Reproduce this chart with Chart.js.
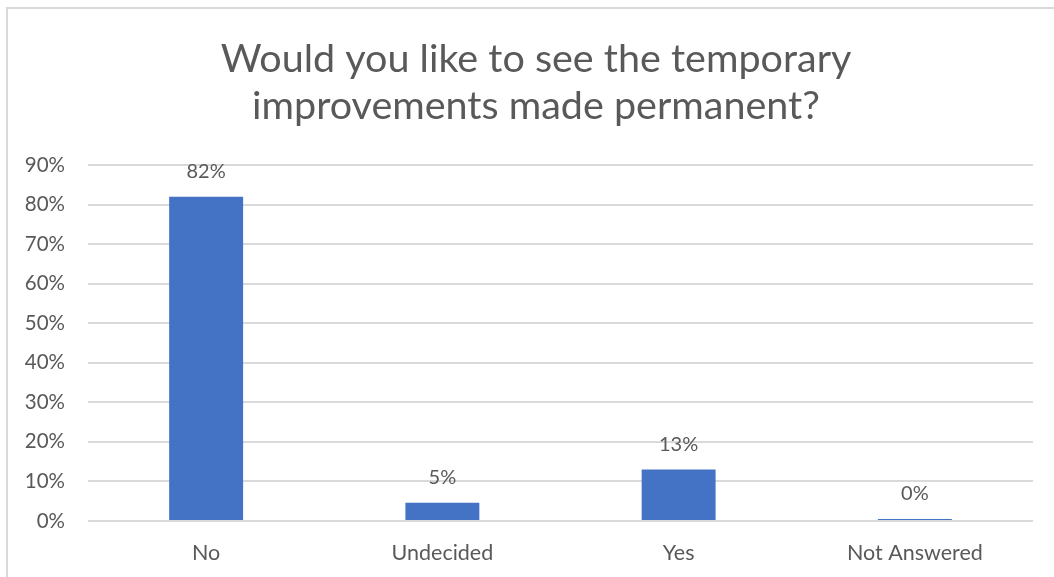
<!DOCTYPE html>
<html>
<head>
<meta charset="utf-8">
<title>Temporary improvements</title>
<script src="https://cdn.jsdelivr.net/npm/chart.js@4"></script>
<style>
    body { margin: 0; background: #fff; }
    #frame { position: absolute; left: 0; top: 0; width: 1054px; height: 577px; }
    #border { position: absolute; left: 6px; top: 7px; width: 1060px; height: 600px; border: 2px solid #d9d9d9; box-sizing: border-box; }
    canvas { position: absolute; left: 0; top: 0; }
</style>
</head>
<body>
<div id="frame">
    <div id="border"></div>
    <canvas id="myChart" width="1054" height="577"></canvas>
</div>
<script>
'use strict';

let categories = ['No', 'Undecided', 'Yes', 'Not Answered'];
let answerValues = [82, 4.6, 13, 0.5];
let answerLabels = ['82%', '5%', '13%', '0%'];
let yTicks = [0, 10, 20, 30, 40, 50, 60, 70, 80, 90];
let titleLines = ['Would you like to see the temporary', 'improvements made permanent?'];

let textColor = '#595959';
let fontName = 'Lato, "Open Sans", sans-serif';

// the title sits centred on the whole frame, not on the plot
let frameTitle = {
    id: 'frameTitle',
    afterDraw(chart) {
        let ctx = chart.ctx;
        ctx.save();
        ctx.font = '39.5px ' + fontName;
        ctx.fillStyle = textColor;
        ctx.textAlign = 'center';
        ctx.textBaseline = 'middle';
        for (let i = 0; i < titleLines.length; i++) {
            ctx.fillText(titleLines[i], 536, 59 + i * 47.5);
        }
        ctx.restore();
    }
};

// writes the percent over every bar
let barLabels = {
    id: 'barLabels',
    afterDatasetsDraw(chart) {
        let ctx = chart.ctx;
        let meta = chart.getDatasetMeta(0);
        ctx.save();
        ctx.font = '20px ' + fontName;
        ctx.fillStyle = textColor;
        ctx.textAlign = 'center';
        ctx.textBaseline = 'middle';
        for (let i = 0; i < meta.data.length; i++) {
            let bar = meta.data[i];
            ctx.fillText(answerLabels[i], bar.x, bar.y - 25);
        }
        ctx.restore();
    }
};

let ctx = document.getElementById('myChart').getContext('2d');
let myChart = new Chart(ctx, {
    type: 'bar',
    data: {
        labels: categories,
        datasets: [{
            data: answerValues,
            backgroundColor: '#4472c4',
            borderWidth: 0,
            barPercentage: 0.313,
            categoryPercentage: 1
        }]
    },
    options: {
        responsive: false,
        animation: false,
        layout: { padding: { left: 0, right: 21, top: 165, bottom: 0 } },
        plugins: {
            legend: { display: false },
            tooltip: { enabled: false },
            title: { display: false }
        },
        scales: {
            x: {
                grid: { display: false, drawTicks: false },
                border: { display: false },
                ticks: { color: textColor, font: { family: fontName, size: 21.5 }, padding: 19 },
                afterFit(scale) { scale.height = 56; }
            },
            y: {
                min: 0,
                max: 90,
                afterBuildTicks(scale) { scale.ticks = yTicks.map(v => ({ value: v })); },
                grid: { color: '#d9d9d9', lineWidth: 2, drawTicks: false },
                border: { display: false },
                ticks: {
                    color: textColor,
                    font: { family: fontName, size: 20.5 },
                    padding: 23,
                    callback: v => v + '%'
                },
                afterFit(scale) { scale.width = 88; }
            }
        }
    },
    plugins: [barLabels, frameTitle]
});
</script>
</body>
</html>
